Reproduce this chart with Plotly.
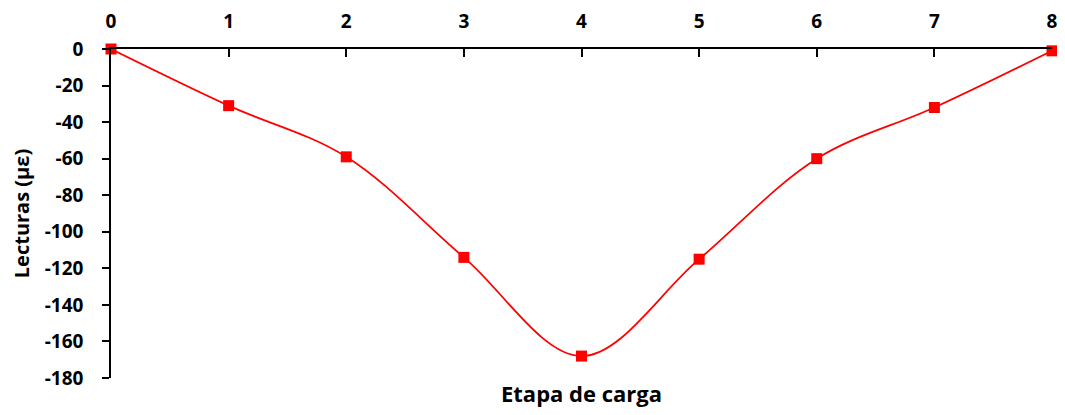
import plotly.graph_objects as go

etapas = [0, 1, 2, 3, 4, 5, 6, 7, 8]
lecturas = [0, -31, -59, -114, -168, -115, -60, -32, -1]

y_ticks = [0, -20, -40, -60, -80, -100, -120, -140, -160, -180]
y_labels = [str(v) for v in y_ticks]

font_family = "Open Sans"
tick_font = dict(family=font_family, size=19, color="black", weight="bold")

fig = go.Figure()
fig.add_trace(go.Scatter(
    x=etapas,
    y=lecturas,
    mode="lines+markers",
    line=dict(color="#ff0000", width=1.75, shape="spline", smoothing=1),
    marker=dict(symbol="square", size=11, color="#ff0000"),
    cliponaxis=False,
    showlegend=False,
))

# the page body has an 8px margin, so margins are shifted by 8px
fig.update_layout(
    width=1065,
    height=415,
    margin=dict(l=103, r=21, t=41, b=45),
    paper_bgcolor="white",
    plot_bgcolor="white",
    font=dict(family=font_family, size=16, color="black"),
    xaxis=dict(
        side="top",
        range=[0, 8],
        tickvals=etapas,
        ticks="inside",
        ticklen=8,
        tickcolor="black",
        tickwidth=1.5,
        ticklabelstandoff=12,
        showline=True,
        linecolor="black",
        linewidth=1.5,
        showgrid=False,
        zeroline=False,
        automargin=False,
        tickfont=tick_font,
    ),
    yaxis=dict(
        range=[-180, 0],
        tickvals=y_ticks,
        ticktext=y_labels,
        ticks="outside",
        ticklen=7,
        tickcolor="black",
        tickwidth=1.5,
        ticklabelstandoff=15,
        showline=True,
        linecolor="black",
        linewidth=1.5,
        showgrid=False,
        zeroline=False,
        automargin=False,
        tickfont=tick_font,
        title=dict(text="Lecturas (με)", standoff=12,
                   font=dict(family=font_family, size=20, color="black", weight="bold")),
    ),
    annotations=[dict(
        text="Etapa de carga",
        x=0.5, xref="paper",
        y=-0.046, yref="paper",
        xanchor="center", yanchor="middle",
        showarrow=False,
        font=dict(family=font_family, size=22, color="black", weight="bold"),
    )],
)

fig.write_html("out.html")
